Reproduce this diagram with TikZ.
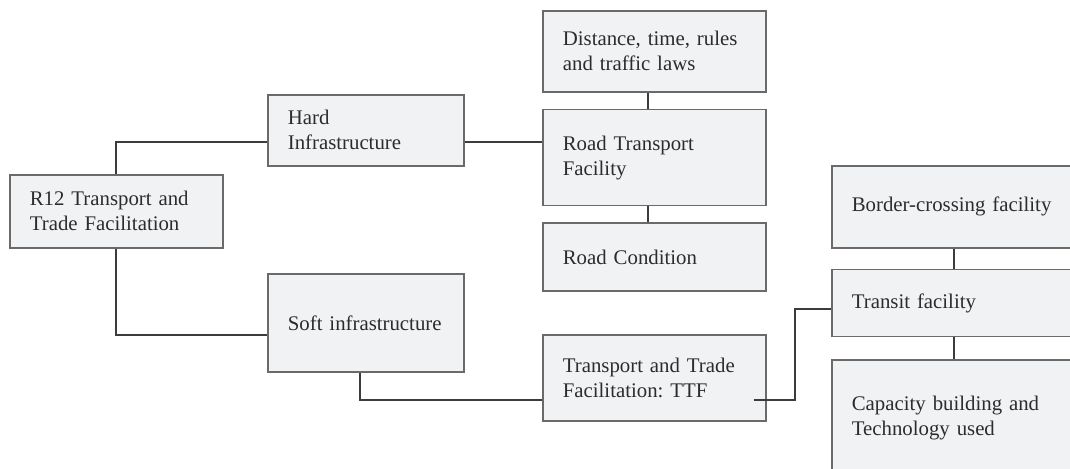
\documentclass[tikz,border=0pt]{standalone}
\usepackage{fontspec}
\setmainfont{Liberation Serif}
\usetikzlibrary{positioning}
\definecolor{BoxFill}{HTML}{F1F2F3}
\definecolor{BoxLine}{HTML}{6A6A6A}
\definecolor{LinkLine}{HTML}{3C3C3C}
\definecolor{TextGray}{HTML}{2C2C2C}
\frenchspacing

\begin{document}
\begin{tikzpicture}[x=0.025cm,y=-0.025cm]
  \tikzstyle{fbox}=[draw=BoxLine,fill=BoxFill,line width=1.2pt,
    anchor=north west,inner xsep=0.5cm,inner ysep=0pt,align=left,
    text=TextGray,font=\fontsize{14.8}{17.8}\selectfont]
  \tikzstyle{link}=[draw=LinkLine,line width=1.4pt]
  \useasboundingbox (0,0) rectangle (1070,468);
  \fill[white] (0,0) rectangle (1070,468);
  \clip (0,0) rectangle (1070,468);
  % left side
  \node[fbox,text width=4.325cm,minimum height=1.825cm] (r12) at (9,174) {R12 Transport and\\Trade Facilitation};
  \node[fbox,text width=3.9cm,minimum height=1.775cm] (hard) at (267,94) {Hard\\Infrastructure};
  \node[fbox,text width=3.9cm,minimum height=2.45cm] (soft) at (267,273) {Soft infrastructure};
  % road column
  \node[fbox,text width=4.575cm,minimum height=2.025cm] (dist) at (542,10) {Distance, time, rules\\and traffic laws};
  \node[fbox,text width=4.575cm,minimum height=2.4cm,below=0.4cm of dist] (road) {Road Transport\\Facility};
  \node[fbox,text width=4.575cm,minimum height=1.7cm,below=0.4cm of road] (cond) {Road Condition};
  \node[fbox,text width=4.575cm,minimum height=2.15cm] (ttf) at (542,334) {Transport and Trade\\Facilitation: TTF};
  % facility column
  \node[fbox,text width=5.1cm,minimum height=2.05cm] (border) at (831,165) {Border-crossing facility};
  \node[fbox,text width=5.1cm,minimum height=1.675cm,below=0.5cm of border] (transit) {Transit facility};
  \node[fbox,text width=5.1cm,minimum height=2.9cm,below=0.55cm of transit] (capacity) {Capacity building and\\Technology used};
  % links
  \coordinate (hardout) at ([yshift=-0.3cm]hard.east);
  \draw[link] (r12.north) |- ([yshift=-0.3cm]hard.west);
  \draw[link] (r12.south) |- ([yshift=-0.3cm]soft.west);
  \draw[link] (hardout) -- (hardout -| road.west);
  \draw[link] ([xshift=-0.15cm]dist.south) -- ([xshift=-0.15cm]road.north);
  \draw[link] ([xshift=-0.15cm]road.south) -- ([xshift=-0.15cm]cond.north);
  \draw[link] ([xshift=-0.15cm]soft.south) |- ([yshift=-0.55cm]ttf.west);
  \draw[link] ([xshift=-0.33cm,yshift=-0.55cm]ttf.east) -- ++(1.03cm,0) |- ([yshift=-0.14cm]transit.west);
  \draw[link] (border.south) -- (transit.north);
  \draw[link] (transit.south) -- (capacity.north);
\end{tikzpicture}
\end{document}
